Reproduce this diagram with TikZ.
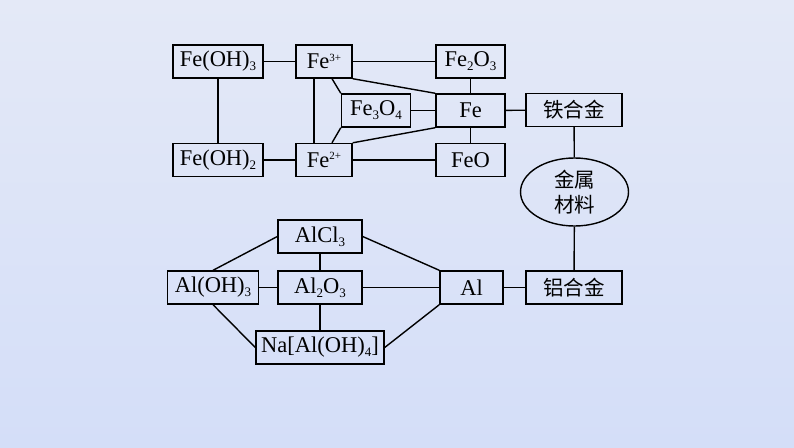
\documentclass[tikz,border=0pt]{standalone}
\usepackage{fontspec}
\setmainfont{Liberation Serif}
\newfontfamily\cjk{Noto Sans CJK SC}
\usetikzlibrary{shapes.geometric}
\definecolor{bgtop}{RGB}{228,233,247}
\definecolor{bgbot}{RGB}{212,222,248}
\newcommand{\sbs}[1]{\raisebox{-4pt}{\fontsize{13}{13}\selectfont #1}}
\newcommand{\sps}[1]{\raisebox{7.5pt}{\fontsize{11}{11}\selectfont #1}}
\begin{document}
\begin{tikzpicture}[x=1pt,y=-1pt,
  box/.style={draw=black,line width=1.4pt,rectangle,inner sep=0pt,minimum height=33pt,
    font=\fontsize{22.5}{26}\selectfont},
  cbox/.style={box,font=\cjk\fontsize{20.5}{24}\selectfont},
  link/.style={line width=1.4pt}]
\shade[top color=bgtop,bottom color=bgbot] (0,0) rectangle (794,447);
\useasboundingbox (0,0) rectangle (794,447);
% iron
\node[box,minimum width=90pt] (fe3oh) at (218,61.5) {Fe(OH)\sbs{3}};
\node[box,minimum width=56pt] (fe3) at (324,61.5) {Fe\sps{3+}};
\node[box,minimum width=69pt] (fe2o3) at (470.5,61.5) {Fe\sbs{2}O\sbs{3}};
\node[box,minimum width=69pt] (fe3o4) at (376,110.5) {Fe\sbs{3}O\sbs{4}};
\node[box,minimum width=69pt] (fe) at (470.5,110.5) {Fe};
\node[box,minimum width=90pt] (fe2oh) at (218,160) {Fe(OH)\sbs{2}};
\node[box,minimum width=56pt] (fe2) at (324,160) {Fe\sps{2+}};
\node[box,minimum width=69pt] (feo) at (470.5,160) {FeO};
\node[cbox,minimum width=96pt] (tie) at (574,110) {铁合金};
\node[draw=black,line width=1.4pt,ellipse,inner sep=0pt,minimum width=108pt,minimum height=68pt,
  align=center,font=\cjk\fontsize{20.5}{25}\selectfont] (jin) at (574.5,192) {金属\\材料};
\node[cbox,minimum width=96pt] (lv) at (574,287.5) {铝合金};
% aluminium
\node[box,minimum width=84pt] (alcl) at (320,236.5) {AlCl\sbs{3}};
\node[box,minimum width=91pt] (aloh) at (213,287.5) {Al(OH)\sbs{3}};
\node[box,minimum width=84pt] (alo) at (320,287.5) {Al\sbs{2}O\sbs{3}};
\node[box,minimum width=63pt] (al) at (471.5,287.5) {Al};
\node[box,minimum width=128pt] (naal) at (320,347.5) {Na[Al(OH)\sbs{4}]};
% iron links
\draw[link] (fe3oh) -- (fe3);
\draw[link] (fe3) -- (fe2o3);
\draw[link] (fe3oh) -- (fe2oh);
\draw[link] ([xshift=-10pt]fe3.south) -- ([xshift=-10pt]fe2.north);
\draw[link] ([xshift=8pt]fe3.south) -- (fe3o4.north west);
\draw[link] ([xshift=8pt]fe2.north) -- (fe3o4.south west);
\draw[link] (fe3.south east) -- (fe.north west);
\draw[link] (fe2.north east) -- (fe.south west);
\draw[link] (fe3o4) -- (fe);
\draw[link] (fe2o3) -- (fe);
\draw[link] (fe) -- (feo);
\draw[link] (fe2oh) -- (fe2);
\draw[link] (fe2) -- (feo);
\draw[link] (fe) -- (tie);
\draw[link] (tie) -- (jin);
\draw[link] (jin) -- (lv);
% aluminium links
\draw[link] (alcl.west) -- (aloh.north);
\draw[link] (alcl) -- (alo);
\draw[link] (alcl.east) -- (al.north west);
\draw[link] (aloh) -- (alo);
\draw[link] (alo) -- (al);
\draw[link] (al) -- (lv);
\draw[link] (aloh.south) -- (naal.west);
\draw[link] (alo) -- (naal);
\draw[link] (naal.east) -- (al.south west);
\end{tikzpicture}
\end{document}
